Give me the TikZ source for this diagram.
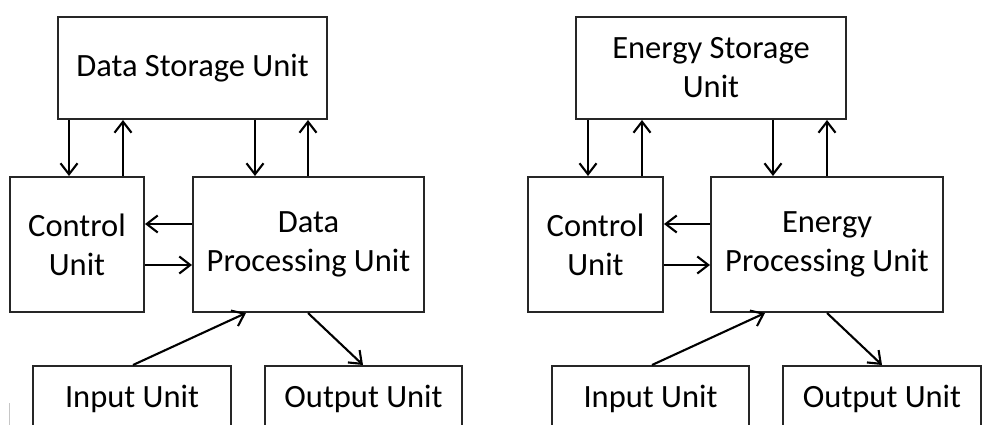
\documentclass[tikz,border=0pt]{standalone}
\usepackage{fontspec}
\setmainfont{Carlito}
\usetikzlibrary{arrows.meta}
\begin{document}
\begin{tikzpicture}[x=1pt,y=-1pt,
  box/.style={draw=black!85,line width=2pt,rectangle,inner sep=0pt,align=center,
    font=\fontsize{32.5}{39}\selectfont},
  arr/.style={line width=2.1pt,-{Straight Barb[length=11pt,width=17pt,line width=2.1pt]}}]
\useasboundingbox (0,0) rectangle (982,425);
\clip (0,0) rectangle (982,425);
% ---------- left diagram ----------
\node[box,minimum width=269pt,minimum height=102pt] (ds) at (192.5,68) {Data Storage Unit};
\node[box,minimum width=134pt,minimum height=135pt] (cl) at (77,244.5) {Control\\Unit};
\node[box,minimum width=231pt,minimum height=135pt] (dp) at (308.5,244.5) {Data\\Processing Unit};
\node[box,minimum width=198pt,minimum height=66pt] (in) at (132,399) {Input Unit};
\node[box,minimum width=197pt,minimum height=66pt] (out) at (363.5,399) {Output Unit};
\coordinate (a1) at (69,0);
\coordinate (a2) at (123,0);
\coordinate (a3) at (255,0);
\coordinate (a4) at (308,0);
\coordinate (h1) at (0,224);
\coordinate (h2) at (0,265);
\coordinate (i1) at (133,0);
\coordinate (i2) at (246,0);
\coordinate (o1) at (308,0);
\coordinate (o2) at (363,0);
\draw[arr] (ds.south -| a1) -- (cl.north -| a1);
\draw[arr] (cl.north -| a2) -- (ds.south -| a2);
\draw[arr] (ds.south -| a3) -- (dp.north -| a3);
\draw[arr] (dp.north -| a4) -- (ds.south -| a4);
\draw[arr] (dp.west |- h1) -- (cl.east |- h1);
\draw[arr] (cl.east |- h2) -- (dp.west |- h2);
\draw[arr] (in.north -| i1) -- (dp.south -| i2);
\draw[arr] (dp.south -| o1) -- (out.north -| o2);
% ---------- right diagram ----------
\node[box,minimum width=270pt,minimum height=102pt] (es) at (711,68) {Energy Storage\\Unit};
\node[box,minimum width=135pt,minimum height=135pt] (cr) at (595.5,244.5) {Control\\Unit};
\node[box,minimum width=232pt,minimum height=135pt] (ep) at (827,244.5) {Energy\\Processing Unit};
\node[box,minimum width=197pt,minimum height=66pt] (in2) at (650.5,399) {Input Unit};
\node[box,minimum width=198pt,minimum height=66pt] (out2) at (882,399) {Output Unit};
\coordinate (b1) at (588,0);
\coordinate (b2) at (642,0);
\coordinate (b3) at (773,0);
\coordinate (b4) at (827,0);
\coordinate (j1) at (652,0);
\coordinate (j2) at (765,0);
\coordinate (p1) at (827,0);
\coordinate (p2) at (882,0);
\draw[arr] (es.south -| b1) -- (cr.north -| b1);
\draw[arr] (cr.north -| b2) -- (es.south -| b2);
\draw[arr] (es.south -| b3) -- (ep.north -| b3);
\draw[arr] (ep.north -| b4) -- (es.south -| b4);
\draw[arr] (ep.west |- h1) -- (cr.east |- h1);
\draw[arr] (cr.east |- h2) -- (ep.west |- h2);
\draw[arr] (in2.north -| j1) -- (ep.south -| j2);
\draw[arr] (ep.south -| p1) -- (out2.north -| p2);
% faint mark at lower left
\draw[gray!45,line width=0.8pt] (9,403) -- (9,425);
\end{tikzpicture}
\end{document}
